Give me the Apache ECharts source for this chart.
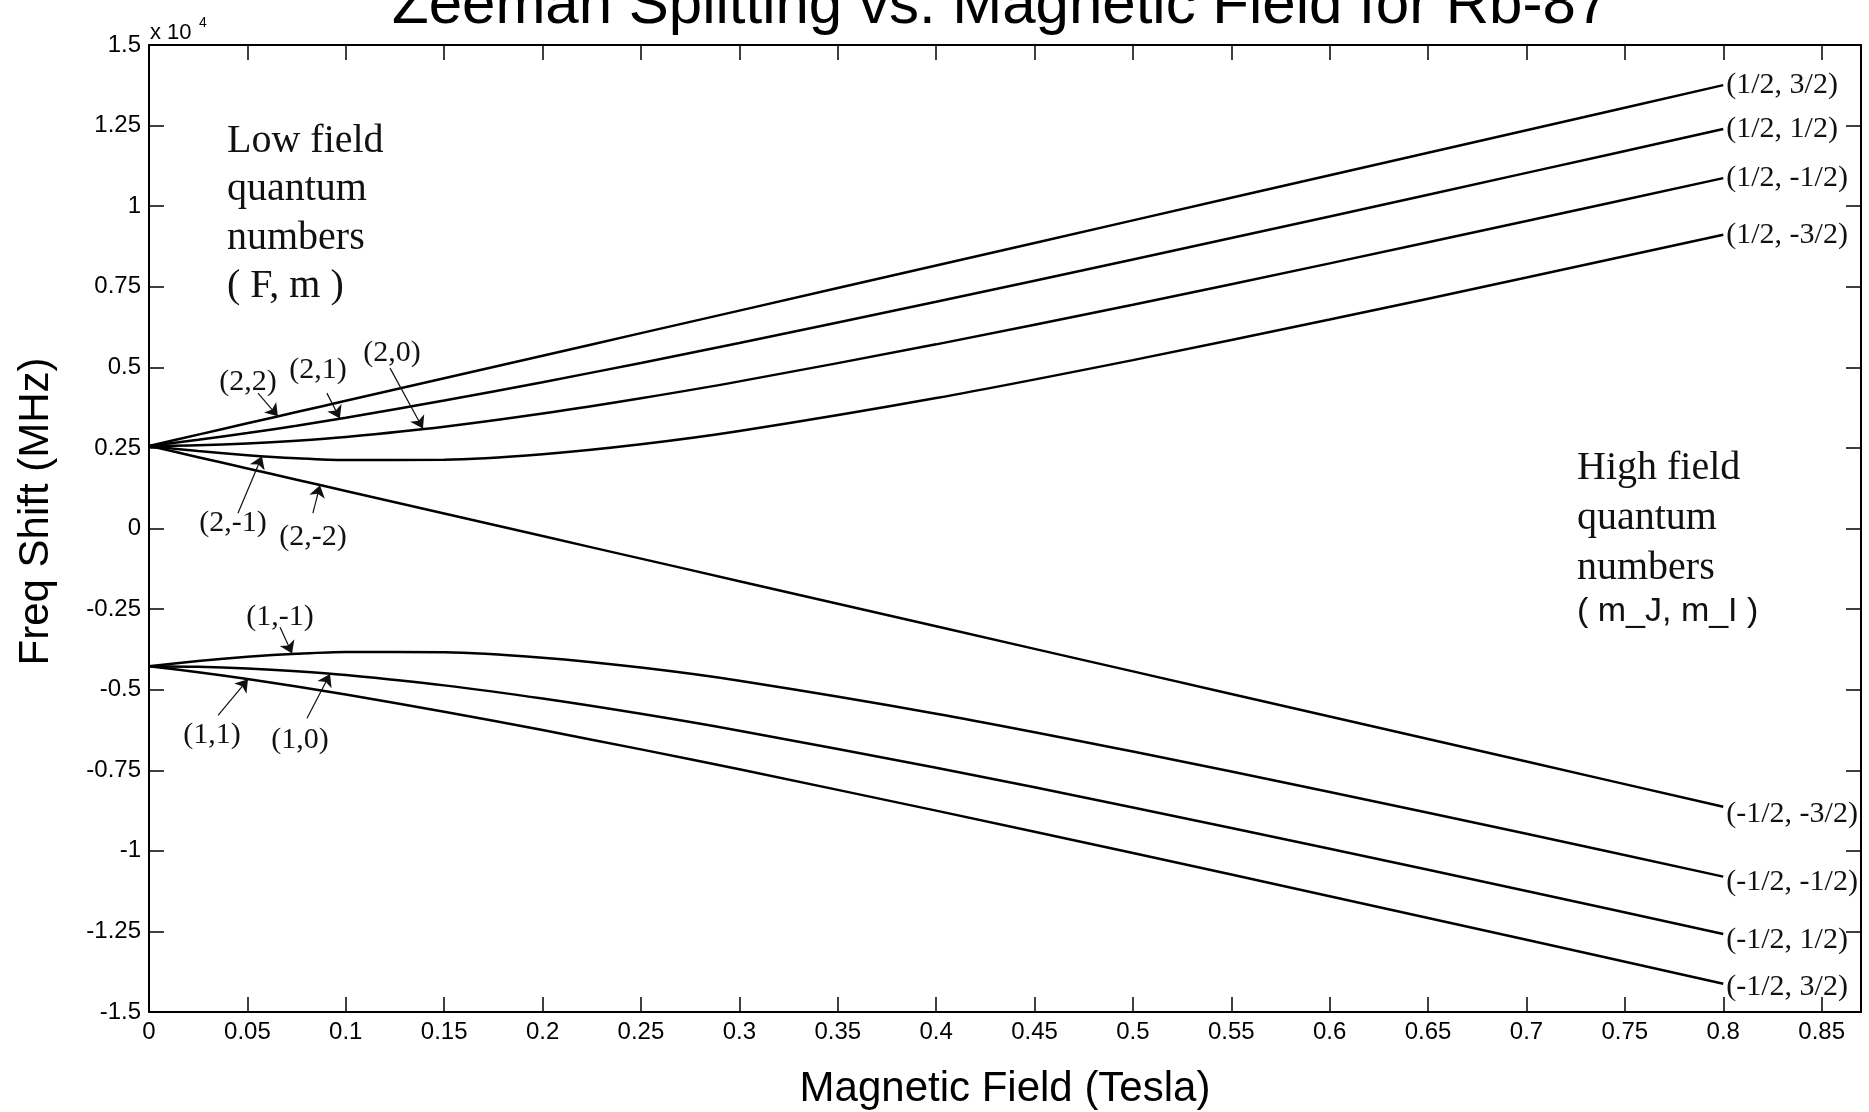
<!DOCTYPE html>
<html><head><meta charset="utf-8">
<script src="https://cdn.jsdelivr.net/npm/echarts@6/dist/echarts.min.js"></script>
<style>html,body{margin:0;padding:0;background:#fff;}#c{width:1869px;height:1112px;}</style>
</head><body><div id="c"></div>
<script>
// Magnetic field (Tesla) sample points
const fieldTesla = [0, 0.025, 0.05, 0.075, 0.1, 0.15, 0.2, 0.25, 0.3, 0.4, 0.5, 0.6, 0.7, 0.8];
// Frequency shift (MHz)
const shift_F2_m2  = [2563, 2913, 3263, 3612, 3962, 4662, 5361, 6061, 6760, 8160, 9559, 10958, 12357, 13756];
const shift_F2_m1  = [2563, 2751, 2961, 3191, 3438, 3969, 4539, 5137, 5755, 7032, 8346, 9681, 11032, 12393];
const shift_F2_m0  = [2563, 2581, 2634, 2721, 2839, 3158, 3566, 4041, 4565, 5713, 6944, 8225, 9537, 10870];
const shift_F2_mm1 = [2563, 2402, 2273, 2178, 2122, 2133, 2304, 2611, 3022, 4046, 5224, 6481, 7784, 9114];
const shift_F2_mm2 = [2563, 2213, 1863, 1514, 1164, 464, -235, -935, -1634, -3034, -4433, -5832, -7231, -8630];
const shift_F1_mm1 = [-4272, -4110, -3980, -3885, -3828, -3838, -4007, -4313, -4722, -5744, -6918, -8173, -9473, -10800];
const shift_F1_m0  = [-4272, -4290, -4343, -4430, -4548, -4867, -5275, -5749, -6273, -7421, -8653, -9934, -11246, -12579];
const shift_F1_m1  = [-4272, -4460, -4671, -4902, -5149, -5682, -6254, -6853, -7472, -8752, -10068, -11407, -12760, -14124];
// High-field labels (m_J, m_I)
const highFieldNames = ['(1/2, 3/2)', '(1/2, 1/2)', '(1/2, -1/2)', '(1/2, -3/2)',
                        '(-1/2, -3/2)', '(-1/2, -1/2)', '(-1/2, 1/2)', '(-1/2, 3/2)'];
const seriesValues = [shift_F2_m2, shift_F2_m1, shift_F2_m0, shift_F2_mm1,
                      shift_F2_mm2, shift_F1_mm1, shift_F1_m0, shift_F1_m1];
// Low-field labels (F, m)
const lowFieldNames = ['(2,2)', '(2,1)', '(2,0)', '(2,-1)', '(2,-2)', '(1,-1)', '(1,1)', '(1,0)'];

// annotation placement (data coords): text position, arrow start, arrow tip
const annotationPlacement = [
  {text: [0.0503, 4541],  from: [0.0554, 4200],  to: [0.0655, 3480]},
  {text: [0.0859, 4916],  from: [0.0904, 4200],  to: [0.0970, 3415]},
  {text: [0.1235, 5441],  from: [0.1225, 4975],  to: [0.1392, 3100]},
  {text: [0.0427, 164],   from: [0.0452, 475],   to: [0.0574, 2240]},
  {text: [0.0833, -270],  from: [0.0833, 475],   to: [0.0869, 1345]},
  {text: [0.0666, -2753], from: [0.0666, -3063], to: [0.0727, -3880]},
  {text: [0.0320, -6415], from: [0.0351, -5794], to: [0.0503, -4680]},
  {text: [0.0767, -6570], from: [0.0803, -5887], to: [0.0920, -4515]}
];
const endLabelOffsets = [[0,0],[0,0],[0,0],[0,0],[0,7],[0,6],[0,6],[0,3]];

const chart = echarts.init(document.getElementById('c'));
const black = '#000';
const tickFont = {fontFamily: 'Liberation Sans', fontSize: 24, color: black};

const lineSeries = seriesValues.map((vals, i) => ({
  type: 'line',
  name: highFieldNames[i],
  data: fieldTesla.map((b, j) => [b, vals[j]]),
  showSymbol: false,
  symbol: 'none',
  smooth: 0.3,
  silent: true,
  lineStyle: {color: black, width: 2.5},
  emphasis: {disabled: true},
  endLabel: {
    show: true, formatter: '{a}', distance: 3, offset: endLabelOffsets[i],
    fontFamily: 'Liberation Serif', fontSize: 30, color: '#111'
  }
}));

const annotationSeries = {
  type: 'line',
  name: 'annotations',
  data: [],
  silent: true,
  itemStyle: {color: '#111'},
  markLine: {
    silent: true,
    symbol: ['none', 'arrow'],
    symbolSize: 12,
    label: {show: false},
    itemStyle: {color: '#111'},
    lineStyle: {color: '#111', width: 1.2, type: 'solid'},
    emphasis: {disabled: true},
    data: annotationPlacement.map(a => [{coord: a.from}, {coord: a.to}])
  },
  markPoint: {
    silent: true,
    symbol: 'circle',
    symbolSize: 1,
    itemStyle: {color: 'rgba(0,0,0,0)'},
    label: {show: true, position: 'inside', formatter: p => p.name,
            fontFamily: 'Liberation Serif', fontSize: 30, color: '#111'},
    data: annotationPlacement.map((a, i) => ({name: lowFieldNames[i], coord: a.text}))
  }
};

const axisCommonX = {
  type: 'value', min: 0, max: 0.87, interval: 0.05,
  axisLine: {show: true, onZero: false, lineStyle: {color: black, width: 2}},
  axisTick: {show: true, inside: true, length: 15, lineStyle: {color: black, width: 1.5}},
  splitLine: {show: false}
};
const axisCommonY = {
  type: 'value', min: -15000, max: 15000, interval: 2500,
  axisLine: {show: true, onZero: false, lineStyle: {color: black, width: 2}},
  axisTick: {show: true, inside: true, length: 15, lineStyle: {color: black, width: 1.5}},
  splitLine: {show: false}
};

chart.setOption({
  animation: false,
  backgroundColor: '#fff',
  textStyle: {fontFamily: 'Liberation Sans'},
  title: {
    text: 'Zeeman Splitting vs. Magnetic Field for Rb-87',
    left: 392, top: -24, padding: 0,
    textStyle: {fontFamily: 'Liberation Sans', fontSize: 60, fontWeight: 'normal', color: black}
  },
  grid: {left: 149, right: 8, top: 45, bottom: 100, outerBoundsMode: 'none'},
  xAxis: [
    Object.assign({}, axisCommonX, {
      position: 'bottom',
      axisLabel: Object.assign({show: true, margin: 8, showMaxLabel: false,
        formatter: v => String(Math.round(v * 100) / 100)}, tickFont),
      name: 'Magnetic Field (Tesla)', nameLocation: 'middle', nameGap: 56,
      nameTextStyle: {fontFamily: 'Liberation Sans', fontSize: 42, color: black}
    }),
    Object.assign({}, axisCommonX, {position: 'top', axisLabel: {show: false}})
  ],
  yAxis: [
    Object.assign({}, axisCommonY, {
      position: 'left',
      axisLabel: Object.assign({show: true, margin: 8,
        formatter: v => String(Math.round(v) / 10000)}, tickFont),
      name: 'Freq Shift (MHz)', nameLocation: 'middle', nameGap: 92,
      nameTextStyle: {fontFamily: 'Liberation Sans', fontSize: 42, color: black,
                      padding: [0, 0, 0, 34]}
    }),
    Object.assign({}, axisCommonY, {position: 'right', axisLabel: {show: false}})
  ],
  graphic: [
    {type: 'text', left: 150, top: 22, silent: true,
     style: {text: 'x 10', fontFamily: 'Liberation Sans', fontSize: 22, fill: black}},
    {type: 'text', left: 199, top: 16, silent: true,
     style: {text: '4', fontFamily: 'Liberation Sans', fontSize: 14, fill: black}},
    {type: 'text', left: 227, top: 117, silent: true,
     style: {text: 'Low field\nquantum\nnumbers\n( F, m )', fontFamily: 'Liberation Serif',
             fontSize: 40, lineHeight: 48.5, fill: '#111'}},
    {type: 'text', left: 1577, top: 443, silent: true,
     style: {text: 'High field\nquantum\nnumbers', fontFamily: 'Liberation Serif',
             fontSize: 40, lineHeight: 50, fill: '#111'}},
    {type: 'text', left: 1577, top: 595, silent: true,
     style: {text: '( m_J, m_I )', fontFamily: 'Liberation Sans',
             fontSize: 34, lineHeight: 34, fill: '#111'}}
  ],
  series: lineSeries.concat([annotationSeries])
});
</script>
</body></html>
